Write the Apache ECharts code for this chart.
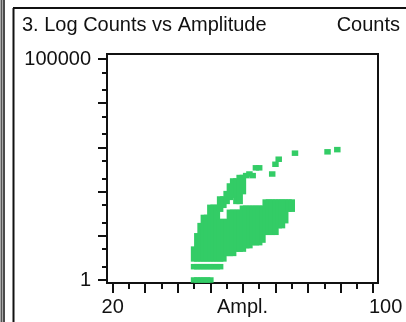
<!DOCTYPE html>
<html>
<head>
<meta charset="utf-8">
<script src="https://cdn.jsdelivr.net/npm/echarts@6/dist/echarts.min.js"></script>
<style>
  html, body { margin: 0; padding: 0; background: #fff; }
  #chart { width: 406px; height: 322px; }
</style>
</head>
<body>
<div id="chart"></div>
<script>
// Hit clusters: amplitude (dB) with the lowest and highest count in that column run
const amplitude = [45,46,47,48,49,50,
  45,46,47,48,49,50,51,52,53,
  45,46,47,48,49,50,51,52,53,54,55,56,57,58,59,60,61,62,63,64,65,66,67,68,69,70,71,72,73,74,75,
  53,54,55,56,57,58,59,60,
  61,62,63,64,65,69,70,71,76,86,89];
const countLow = [1,1,1,1,1,1,
  2,2,2,2,2,2,2,2,2,
  3,3,3,3,3,3,3,3,3,3,4,4,4,5,5,5,6,6,7,7,7,8,12,12,12,12,17,17,22,40,40,
  40,49,60,74,83,60,60,100,
  230,250,230,345,345,250,415,540,740,794,890];
const countHigh = [1,1,1,1,1,1,
  2,2,2,2,2,2,2,2,2,
  5,10,17,26,26,44,44,44,21,21,21,34,34,34,34,42,42,42,42,42,42,42,58,58,58,58,58,58,58,58,58,
  68,68,90,134,174,174,208,208,
  230,250,230,345,345,250,415,540,740,794,890];

// Axis ticks and labels
const xMajorTicks = [20,30,40,50,60,70,80,90,100];
const xMinorTicks = [25,35,45,55,65,75,85,95];
const xLabels = [20,100];
const yMajorTicks = [1,10,100,1000,10000,100000];
const yMinorTicks = [2,5,20,50,200,500,2000,5000,20000,50000];
const yLabels = [1,100000];

const GREEN = '#33cc66';
const INK = '#111111';
const FONT = 'Liberation Sans, Arial, sans-serif';
const MARK_W = 6.5, MARK_H = 5.5;

const X_MIN = 18.25, X_MAX = 101.5;
const Y_MIN = Math.pow(10, -0.068), Y_MAX = Math.pow(10, 5.113);

const data = amplitude.map((a, i) => [a, countLow[i], countHigh[i]]);

const chart = echarts.init(document.getElementById('chart'), null, { renderer: 'canvas' });

const baseX = {
  type: 'value', min: X_MIN, max: X_MAX, position: 'bottom',
  splitLine: { show: false }
};
const baseY = {
  type: 'log', logBase: 10, min: Y_MIN, max: Y_MAX, position: 'left',
  splitLine: { show: false }
};

chart.setOption({
  animation: false,
  backgroundColor: '#ffffff',
  title: [
    { text: '3. Log Counts vs Amplitude', left: 22, top: 15, padding: 0,
      textStyle: { fontFamily: FONT, fontSize: 20, fontWeight: 'normal', color: INK } },
    { text: 'Counts', right: 6, top: 15, padding: 0,
      textStyle: { fontFamily: FONT, fontSize: 20, fontWeight: 'normal', color: INK } }
  ],
  grid: {
    left: 107, right: 28, top: 54, bottom: 39,
    containLabel: false, outerBoundsMode: 'none',
    show: true, borderColor: INK, borderWidth: 2, backgroundColor: '#ffffff'
  },
  xAxis: [
    Object.assign({}, baseX, {
      name: 'Ampl.', nameLocation: 'middle', nameGap: 14, nameMoveOverlap: false,
      nameTextStyle: { fontFamily: FONT, fontSize: 20, color: INK, verticalAlign: 'top' },
      axisLine: { show: true, lineStyle: { color: INK, width: 2 } },
      axisTick: { show: true, length: 10, lineStyle: { color: INK, width: 2 }, customValues: xMajorTicks },
      axisLabel: {
        show: true, margin: 14, fontFamily: FONT, fontSize: 20, color: INK,
        customValues: xLabels,
        formatter: v => v === 100 ? '{r|100}' : String(v),
        rich: { r: { fontFamily: FONT, fontSize: 20, color: INK, padding: [0, 0, 0, 25] } }
      }
    }),
    Object.assign({}, baseX, {
      axisLine: { show: false },
      axisTick: { show: true, length: 6, lineStyle: { color: INK, width: 2 }, customValues: xMinorTicks },
      axisLabel: { show: false }
    })
  ],
  yAxis: [
    Object.assign({}, baseY, {
      axisLine: { show: true, lineStyle: { color: INK, width: 2 } },
      axisTick: { show: true, length: 9, lineStyle: { color: INK, width: 2 }, customValues: yMajorTicks },
      axisLabel: {
        show: true, margin: 16, fontFamily: FONT, fontSize: 20, color: INK,
        customValues: yLabels, formatter: v => String(Math.round(v))
      }
    }),
    Object.assign({}, baseY, {
      axisLine: { show: false },
      axisTick: { show: true, length: 5, lineStyle: { color: INK, width: 2 }, customValues: yMinorTicks },
      axisLabel: { show: false }
    })
  ],
  series: [{
    type: 'custom',
    xAxisIndex: 0, yAxisIndex: 0,
    clip: true,
    data: data,
    encode: { x: 0, y: [1, 2] },
    renderItem: function (params, api) {
      const a = api.value(0), lo = api.value(1), hi = api.value(2);
      const top = api.coord([a, hi]);
      const bot = api.coord([a, lo]);
      return {
        type: 'rect',
        shape: { x: top[0] - MARK_W / 2, y: top[1] - MARK_H / 2, width: MARK_W, height: bot[1] - top[1] + MARK_H },
        style: { fill: GREEN }
      };
    }
  }],
  graphic: [
    // window edges on the left and the panel frame
    { type: 'line', shape: { x1: 1.5, y1: 0, x2: 1.5, y2: 322 }, style: { stroke: '#555', lineWidth: 2 } },
    { type: 'line', shape: { x1: 4, y1: 0, x2: 4, y2: 322 }, style: { stroke: INK, lineWidth: 1.5 } },
    { type: 'line', shape: { x1: 13.5, y1: 8, x2: 13.5, y2: 322 }, style: { stroke: INK, lineWidth: 2 } },
    { type: 'line', shape: { x1: 13, y1: 8, x2: 406, y2: 8 }, style: { stroke: INK, lineWidth: 2 } }
  ]
});
</script>
</body>
</html>
